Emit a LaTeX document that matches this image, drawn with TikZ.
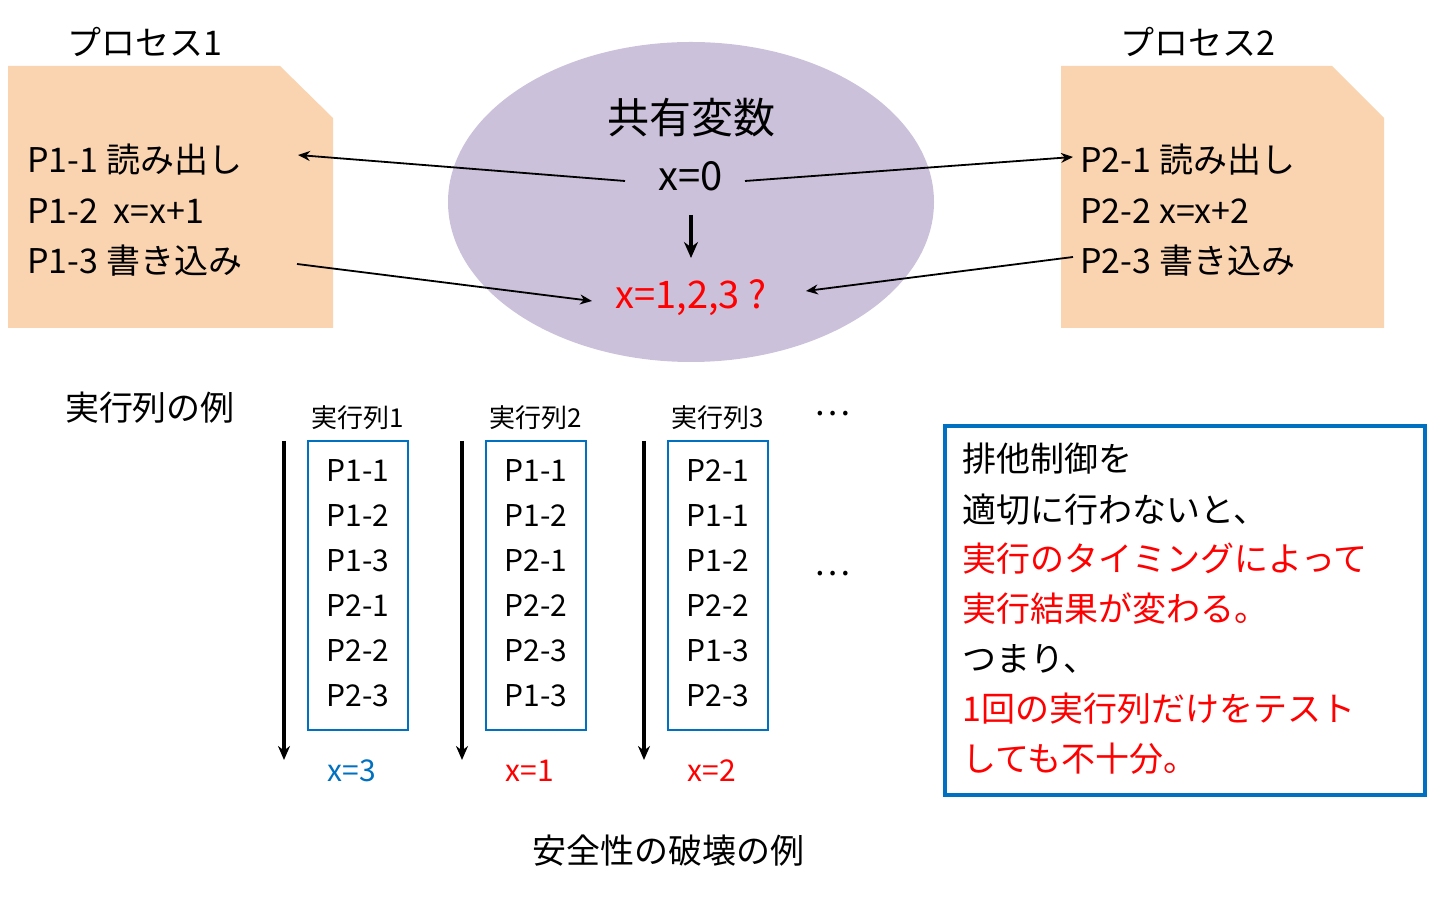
\documentclass[tikz,border=0pt]{standalone}
\usepackage{fontspec}
\setmainfont{Noto Sans CJK JP}
\newfontfamily\latf{Carlito}
\usetikzlibrary{shapes.geometric,arrows.meta}
\definecolor{peach}{HTML}{FAD3B0}
\definecolor{lav}{HTML}{CCC1DA}
\definecolor{bl}{HTML}{0070C0}
\tikzset{
 txt/.style={font=\fontsize{17}{20}\selectfont, anchor=west, inner sep=0},
 ctr/.style={font=\fontsize{17}{20}\selectfont, inner sep=0},
 sm/.style={font=\fontsize{13}{15}\selectfont, inner sep=0},
 itm/.style={font=\fontsize{15}{18}\selectfont, inner sep=0},
 arr/.style={-{Stealth[length=6pt,width=5pt]}, line width=0.9pt},
 colbox/.style={draw=bl, line width=1.2pt},
}
\begin{document}
\begin{tikzpicture}[x=0.5pt,y=-0.5pt]
\useasboundingbox (0,0) rectangle (1432,897);
\fill[peach] (8,66) -- (280,66) -- (333,118) -- (333,328) -- (8,328) -- cycle;
\fill[peach] (1061,66) -- (1332,66) -- (1384,118) -- (1384,328) -- (1061,328) -- cycle;
\fill[lav] (691,202) ellipse [x radius=243, y radius=160];
\node[ctr] (pr1) at (145,42) {プロセス1};
\node[ctr] (pr2) at (1198,42) {プロセス2};
\node[txt] (a1) at (27,160) {P1-1 読み出し};
\node[txt] (a2) at (27,211) {P1-2\ \ x=x+1};
\node[txt] (a3) at (27,261) {P1-3 書き込み};
\node[txt] (b1) at (1080,160) {P2-1 読み出し};
\node[txt] (b2) at (1080,211) {P2-2 x=x+2};
\node[txt] (b3) at (1080,261) {P2-3 書き込み};
\node[ctr,font=\fontsize{21}{24}\selectfont] (sv) at (691,118) {共有変数};
\node[ctr,font=\fontsize{20}{24}\selectfont] (x0) at (691,176) {x=0};
\node[ctr,text=red,font=\fontsize{19}{22}\selectfont] (xq) at (691,298) {x=1,2,3 ?};
\draw[-{Stealth[length=8pt,width=7pt]}, line width=2pt] (691,215) -- (691,258);
\draw[arr] (625,181) -- (298,155);
\draw[arr] (745,181) -- (1073,157);
\draw[arr] (297,264) -- (592,301);
\draw[arr] (1073,257) -- (806,291);
\node[ctr] (ex) at (150,408) {実行列の例};
\foreach \n/\bx/\ax/\la/\lb/\lc/\ld/\le/\lf/\res/\rc in {1/358/284/P1-1/P1-2/P1-3/P2-1/P2-2/P2-3/x=3/bl, 2/536/462/P1-1/P1-2/P2-1/P2-2/P2-3/P1-3/x=1/red, 3/718/644/P2-1/P1-1/P1-2/P2-2/P1-3/P2-3/x=2/red}{
 \node[sm] (h\n) at (\bx,418) {実行列\n};
 \draw[colbox] (\bx-50,441) rectangle (\bx+50,730);
 \node[itm] (i\n a) at (\bx,471) {\la};
 \node[itm] (i\n b) at (\bx,516) {\lb};
 \node[itm] (i\n c) at (\bx,561) {\lc};
 \node[itm] (i\n d) at (\bx,606) {\ld};
 \node[itm] (i\n e) at (\bx,651) {\le};
 \node[itm] (i\n f) at (\bx,696) {\lf};
 \node[itm,text=\rc] (r\n) at (\bx-6,771) {\res};
 \coordinate (s\n) at (\ax,441); \coordinate (e\n) at (\ax,760);
 \draw[-{Stealth[length=7pt,width=6pt]}, line width=1.8pt] (s\n) -- (e\n);
}
\node[ctr] (d1) at (832,414) {…};
\node[ctr] (d2) at (832,574) {…};
\node[ctr] (ha) at (668,851) {安全性の破壊の例};
\draw[draw=bl, line width=1.8pt] (945,426) rectangle (1425,795);
\foreach \y/\t/\c in {459/排他制御を/black, 510/適切に行わないと、/black, 559/実行のタイミングによって/red, 609/実行結果が変わる。/red, 659/つまり、/black, 709/1回の実行列だけをテスト/red, 759/しても不十分。/red}{
 \node[txt,text=\c] at (962,\y) {\t};
}
\end{tikzpicture}
\end{document}
